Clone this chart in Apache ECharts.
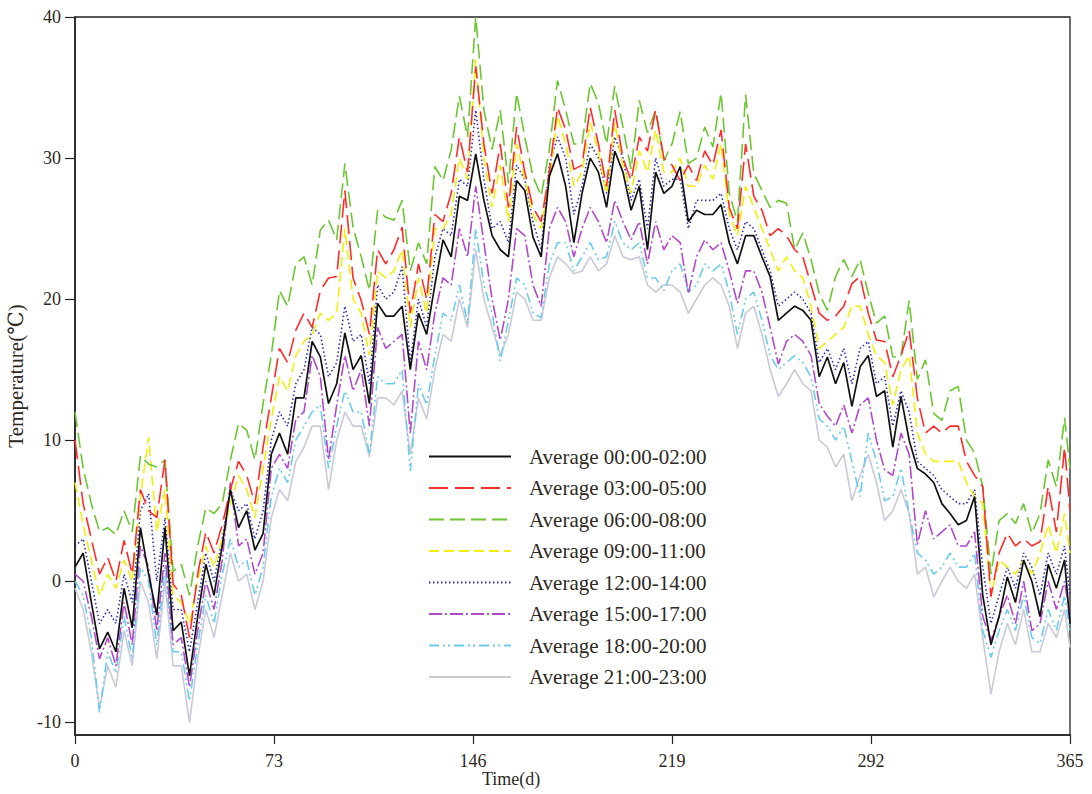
<!DOCTYPE html>
<html><head><meta charset="utf-8">
<script src="https://cdn.jsdelivr.net/npm/echarts@6/dist/echarts.min.js"></script>
<style>html,body{margin:0;padding:0;background:#fff}#c{width:1092px;height:794px}</style>
</head><body><div id="c"></div>
<script>
// x positions (day of year), sampled every 3 days
const days = []; for (let d = 0; d <= 363; d += 3) days.push(d); days.push(365);

const seriesNames = ['Average 00:00-02:00','Average 03:00-05:00','Average 06:00-08:00','Average 09:00-11:00',
  'Average 12:00-14:00','Average 15:00-17:00','Average 18:00-20:00','Average 21:00-23:00'];

const avg00_02 = [1,2,-1.5,-4.8,-3.6,-5,-0.5,-3.3,3.8,0.5,
 -2.4,3.8,-3.5,-2.9,-6.7,-2.5,1.2,-1,2.5,6.5,
 3.8,5,2.2,3.4,9,10.5,9,13,13,17,
 15.9,12.6,14,17.6,15,16,12.6,19.7,18.8,18.8,
 19.5,15,19,17.5,21,24.2,23,27.3,27,30.3,
 27,24.5,23.5,23,28.4,27.7,24.4,23,28.7,30.3,
 28,24,27.5,30,29,26.5,30.5,29,26.3,28,
 23.5,29,27.5,28,29.4,25.5,26.3,26,26,26.7,
 24,22.5,24.5,24.5,23,21.6,18.5,19,19.5,19.2,
 18.5,14.5,15.9,14,15.5,12.4,15.2,16,13.1,13.5,
 9.5,13.1,10,8,7.6,7,5.5,4.8,4,4.3,
 6,-1,-4.5,-2.5,0.3,-1.5,1.5,0,-2.5,1.2,
 -0.5,1.5,-3];
const avg03_05 = [10,5.5,3,0.5,1.7,0,2.9,0.5,6.5,5,
 4.5,8.6,-0.2,-1,-4,0.5,3.5,2,4,6.5,
 8.5,7.5,5.5,9.5,13,16.5,15.5,17.8,19,18,
 20.6,21.5,21.6,27.7,21.5,19.9,17.5,23.5,22.5,23.5,
 25.1,19,22.5,20,26,25.5,27.5,31.5,29,36.5,
 31,27.5,31,26.5,32.2,29,26.5,25.5,29,33.6,
 32,29.2,29.5,33.6,31,28,33.4,30,28.4,31.5,
 30.5,33.4,30,29.5,28.4,29.5,28.4,30.5,29.5,32,
 26.5,25,31,27.3,26.3,24.5,25,24.5,23.5,23,
 21,19,18.5,18.8,19.5,21.1,21.6,19,17.1,17,
 14.5,16,17.8,13,10.5,11,10.5,11,11,8.5,
 7.5,6.7,-1.1,2,3.4,2.5,3,2.5,2.8,6.7,
 3.5,9.5,5];
const avg06_08 = [12,8,5.5,3.5,3.8,3.3,5,3.5,8.9,8.3,
 8.1,8.6,0.7,1.2,-1,2.5,5.2,4.8,5.5,8.6,
 11.2,10.7,8.6,12.6,16,20.6,19.5,22.5,23,21,
 24.9,25.6,24.2,29.6,25.1,23,20.6,26.3,25.8,25.6,
 27,22,24,22.5,29.4,28.4,30.6,34.4,31.5,40,
 33.4,30.6,33.4,28.2,34.6,31.5,28.7,27.3,30.6,35.5,
 33.4,31,31,35.3,33.9,31,35.1,32.2,29.2,34.1,
 31.8,33.4,29.8,31,33.3,29.6,30,32.2,30.8,34.6,
 27.5,25.5,34.5,28.9,27.7,26.5,27,26.8,23.5,24.7,
 22.8,20.4,19.2,21.6,22.8,21.6,22.8,20.4,18.3,18.8,
 15.9,15.9,19.9,14.3,15.7,11.9,11.4,13.5,13.8,10,
 9.1,6.7,0.5,4.3,4.8,4.1,5.5,3.4,4.8,8.6,
 6.7,11.6,8];
const avg09_11 = [7,4,1.5,-1,0.5,-0.5,1.5,0,6,10.2,
 3.5,6.5,-1,-1.5,-3,0,2.5,1,3,5.5,
 7.5,6.5,4.5,8,11.5,14.5,13.5,16,17,17.5,
 19,18.5,19,25,20,19,16,22,21.5,22,
 23.5,18,21.5,19,25,25,26,30,28.5,37,
 30,26.5,29.5,25.5,31,28.5,26,25,28.5,33,
 31,28,29,32.5,30.5,27.5,32.5,29.5,27.5,30.5,
 29,32,29,29,30,28,28,29.5,28.5,31,
 26,24.5,28,26.5,25,23.5,22,23,22,21.5,
 19.5,16.5,17,17.5,18,19.5,19.5,17.5,16,15.5,
 12.5,15,16,10.5,9,8.5,8.5,8.5,8.5,7,
 6,5.5,-1,1.5,1,0.5,1.5,0.5,2,4,
 2,4.8,2];
const avg12_14 = [2.5,3,0,-3,-2,-3,0.5,-1.5,5,6.2,
 0,4.5,-2,-2,-5,-1.5,2,0,3,6.5,
 5,5.5,3,5,10,12,11,14,15,18,
 17.5,14.5,15.5,19.5,17,17.5,14,21,20,20.5,
 22.3,15.5,20,18,23,25,24.5,28.5,28,33.4,
 28.5,25,25.5,24,29.5,28.5,25.5,23.5,29.5,31.5,
 30,26,28,31,30,27.5,31.5,30,27,28.5,
 25,30,28,28.5,28.5,25,27,27,27,27.5,
 25,23.5,25.5,25,23.5,22,19.5,20,20.5,20,
 19,15.5,16.5,15,16.5,14,16.5,17,14,14.5,
 11,13.5,12,8.5,8,7.5,6.5,6,5.5,5.5,
 6.5,1,-3,-1,1,-0.5,2,1,-1,2,
 0.5,2.5,-1];
const avg15_17 = [0.5,0,-2.5,-5.5,-4,-6,-1.5,-4.5,2.5,1,
 -3.5,2,-4.5,-4,-7.5,-3.5,0,-2,1.5,7,
 2.5,3,0.5,2,8,9,8,11.5,12,16,
 14.5,8.6,12.5,16,13.5,15,11,18,16.5,17,
 17.5,10.5,17,15,19,21.5,21,25,23,28,
 24,20,17.1,20,25,24.5,21,19.5,25,26.5,
 25.5,23,25,26.5,25.5,24,27,25.5,24.2,25.5,
 22.5,25.5,23.5,24.5,24,20.4,23,24.2,23.5,24,
 22,19.7,22,22,20.5,18,15.4,17,17.5,17,
 16,12.6,11.7,11,12.5,10.5,12.5,13,10,7.9,
 7.5,10.5,9,2.6,5,3,3.5,4,2.5,2.5,
 3.5,-2.5,-4.2,-2.5,-1,-3,0,-3.5,-3,0,
 -2,0,-2.5];
const avg18_20 = [0,-1,-4,-9.3,-5,-6.5,-2.5,-5.5,1,0,
 -4.5,1,-5,-5,-8.5,-4.5,-1,-3,0.5,3,
 1,1.5,-1,1,6,8,7,10,11,12,
 12.5,8,11,13.5,12,12,9,14.5,14,14,
 15,7.8,14,12.5,16,19,18.5,21,18.3,25,
 21,19,15.6,18.5,21.5,21,19,18.7,22.5,24,
 24,22,23,24,22.8,23,25.5,24,23.5,24,
 21.5,21.5,20.6,22,22.5,20.5,21,22.5,22,22.5,
 20.5,17.5,20,20.5,18.5,16,15,15.5,16,15.5,
 14.5,11.5,11,10,11,8.5,6,10.5,8.5,5.7,
 6,8,4.8,2,1.5,0.5,1,2,1,1,
 2,-3.5,-5.4,-3.5,-2,-3.5,-1,-4,-4.4,-2,
 -3.5,-1,-3.5];
const avg21_23 = [-0.5,-2,-5,-9,-6,-7.5,-3.5,-6,0,-1.5,
 -5.5,0,-6,-6,-10,-5.5,-2,-4,-1,2,
 0,0.5,-2,0,4.5,6.5,5.7,8.5,9.5,11,
 11,6.5,10,12,11,11,8.8,13,13,12.5,
 13.5,9,13,11.5,15,17.5,17,20,18,23.5,
 20,18,16,17.5,20.5,20,18.5,18.5,21.5,23,
 22.5,21.8,22,23,22,22.5,24.5,23,22.8,23,
 21,20.5,21,21,20.5,19,20,21,21.5,21,
 19.5,16.5,19,19.5,17.5,15,13.1,14,15,14,
 13.5,10,9.5,8.1,9,5.7,7.5,9,7,4.3,
 5,6.5,4.8,0.5,1,-1.1,0,1,0,-0.5,
 0.5,-4,-8,-5,-3,-4.5,-2,-5,-5,-3,
 -4,-2,-4.7];

const xTicks = [0, 73, 146, 219, 292, 365];
const yTicks = [-10, 0, 10, 20, 30, 40];

const allValues = [avg00_02, avg03_05, avg06_08, avg09_11, avg12_14, avg15_17, avg18_20, avg21_23];
const colors = ['#111111','#ff2b2b','#6cc632','#f2ee10','#2e2ea8','#b04ac8','#6ccbea','#c9c9d8'];
const dashTypes = ['solid',[19,7],[15,6],[10,5],[1.5,2.5],[13,3,2,3],[10,4,2,3,2,4],'solid'];
const zOrder = [9,8,7,6,5,4,3,2];
const FONT = '"Liberation Serif", "DejaVu Serif", serif';
const TXT = '#2e2a1e';

const chart = echarts.init(document.getElementById('c'), null, {renderer: 'svg'});
chart.setOption({
  animation: false,
  backgroundColor: '#fff',
  grid: {left: 75, right: 22, top: 17, bottom: 59, containLabel: false, outerBoundsMode: 'none',
         show: true, borderColor: '#222', borderWidth: 1.3},
  xAxis: {
    type: 'value', min: 0, max: 365, interval: 73,
    axisLine: {onZero: false, lineStyle: {color: '#222', width: 1.6}},
    axisTick: {show: true, inside: false, length: 9, lineStyle: {color: '#222', width: 1.2}},
    axisLabel: {margin: 17, fontFamily: FONT, fontSize: 18, color: TXT, customValues: xTicks},
    splitLine: {show: false}
  },
  yAxis: {
    type: 'value', min: -10.9, max: 40,
    name: 'Temperature(℃)', nameLocation: 'middle', nameGap: 47,
    nameTextStyle: {fontFamily: FONT, fontSize: 21, color: TXT},
    axisLine: {onZero: false, lineStyle: {color: '#222', width: 1.6}},
    axisTick: {show: true, inside: false, length: 10, lineStyle: {color: '#222', width: 1.2}, customValues: yTicks},
    axisLabel: {margin: 14, fontFamily: FONT, fontSize: 18, color: TXT, customValues: yTicks},
    splitLine: {show: false}
  },
  legend: {
    orient: 'vertical', left: 423, top: 441,
    itemWidth: 82, itemHeight: 14, itemGap: 10.5,
    data: seriesNames,
    itemStyle: {opacity: 0, borderWidth: 0},
    textStyle: {fontFamily: FONT, fontSize: 21, color: TXT, padding: [0, 0, 0, 13]}
  },
  graphic: [{type: 'text', left: 482, top: 770, style: {text: 'Time(d)', font: '18px ' + FONT, fill: TXT}}],
  series: seriesNames.map((n, i) => ({
    name: n, type: 'line', symbol: 'none', showSymbol: false, z: zOrder[i],
    data: days.map((d, j) => [d, allValues[i][j]]),
    lineStyle: {color: colors[i], width: i === 0 ? 1.7 : 1.6, type: dashTypes[i]},
    itemStyle: {color: colors[i]}
  }))
});
</script></body></html>
